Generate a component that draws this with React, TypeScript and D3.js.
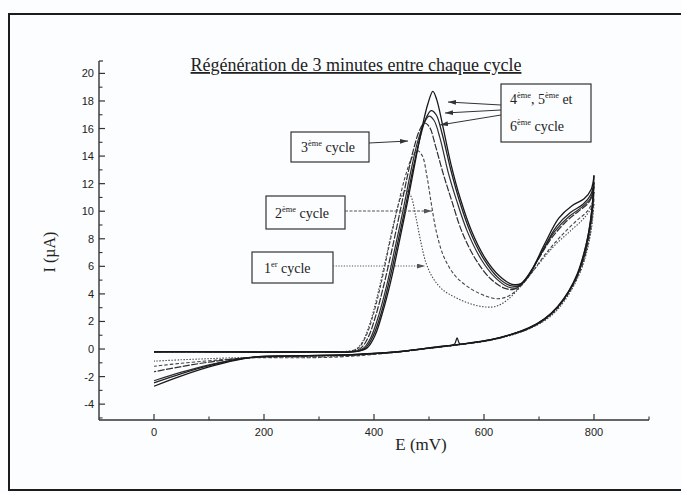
import React from "react";
import * as d3 from "d3";

// ---------- Data (E in mV, I in µA) ----------
const xTicksMajor = [0, 200, 400, 600, 800];
const xTicksMinor = [100, 300, 500, 700, 900];
const yTicksMajor = [-4, -2, 0, 2, 4, 6, 8, 10, 12, 14, 16, 18, 20];
const yTicksMinor = [-5, -3, -1, 1, 3, 5, 7, 9, 11, 13, 15, 17, 19];

const baseStart: [number, number][] = [[0, -0.2], [100, -0.2], [200, -0.22], [300, -0.2]];

const cycle1Forward: [number, number][] = [[350, -0.17], [368, 0.0], [380, 0.6], [392, 1.8], [405, 3.7], [420, 6.3], [435, 9.0], [448, 10.9], [458, 11.5], [467, 11.1], [476, 9.6], [485, 7.8], [495, 6.2], [508, 5.1], [525, 4.3], [550, 3.7], [578, 3.25], [603, 3.05], [622, 3.1], [642, 3.55], [668, 4.6], [698, 6.1], [728, 7.5], [758, 8.6], [782, 9.5], [800, 10.5]];
const cycle2Forward: [number, number][] = [[355, -0.17], [372, 0.1], [385, 0.9], [398, 2.4], [412, 4.6], [427, 7.4], [442, 10.1], [456, 12.4], [468, 13.8], [479, 14.4], [488, 14.0], [496, 12.6], [504, 10.6], [514, 8.4], [528, 6.6], [548, 5.3], [575, 4.4], [603, 3.85], [625, 3.65], [645, 3.85], [665, 4.5], [688, 5.6], [712, 6.9], [740, 8.2], [768, 9.3], [788, 10.0], [800, 10.9]];
const cycle3Forward: [number, number][] = [[360, -0.17], [377, 0.1], [390, 0.9], [403, 2.4], [417, 4.5], [432, 7.1], [447, 9.9], [461, 12.6], [472, 14.5], [483, 15.9], [492, 16.4], [501, 16.1], [512, 14.7], [526, 12.7], [541, 10.8], [560, 8.5], [585, 6.5], [612, 5.1], [638, 4.4], [655, 4.35], [673, 4.9], [697, 6.4], [722, 8.0], [748, 9.2], [772, 10.0], [790, 10.6], [800, 11.4]];
const cycle4Forward: [number, number][] = [[365, -0.17], [382, 0.1], [395, 0.9], [409, 2.5], [423, 4.6], [438, 7.3], [453, 10.1], [467, 12.9], [479, 15.0], [490, 16.3], [500, 16.9], [509, 16.6], [520, 15.3], [535, 12.8], [550, 10.8], [570, 8.5], [595, 6.5], [620, 5.2], [644, 4.5], [660, 4.45], [678, 5.1], [702, 6.8], [728, 8.5], [754, 9.6], [778, 10.3], [793, 10.9], [800, 11.8]];
const cycle5Forward: [number, number][] = [[368, -0.17], [385, 0.1], [399, 1.0], [413, 2.6], [427, 4.8], [442, 7.5], [457, 10.3], [471, 13.1], [483, 15.2], [494, 16.7], [504, 17.3], [513, 17.0], [524, 15.6], [539, 13.1], [555, 10.8], [575, 8.5], [600, 6.5], [625, 5.2], [648, 4.6], [664, 4.6], [682, 5.4], [706, 7.1], [732, 8.9], [757, 9.9], [780, 10.5], [794, 11.2], [800, 12.1]];
const cycle6Forward: [number, number][] = [[370, -0.17], [388, 0.1], [402, 1.0], [416, 2.7], [431, 5.0], [446, 7.8], [461, 10.7], [475, 13.6], [487, 16.0], [498, 17.8], [507, 18.7], [514, 18.1], [525, 16.2], [540, 13.4], [557, 10.9], [577, 8.6], [602, 6.6], [628, 5.3], [651, 4.7], [667, 4.75], [686, 5.7], [710, 7.6], [736, 9.5], [760, 10.4], [782, 10.9], [795, 11.6], [800, 12.6]];

const cycle1Reverse: [number, number][] = [[796, 8.9], [789, 7.4], [779, 6.0], [766, 4.8], [750, 3.7], [730, 2.7], [706, 1.95], [678, 1.4], [645, 0.95], [608, 0.6], [570, 0.38], [530, 0.18], [490, 0.0], [450, -0.18], [410, -0.32], [360, -0.47], [300, -0.58], [240, -0.6], [190, -0.6], [150, -0.63], [100, -0.7], [50, -0.78], [0, -0.88]];
const cycle2Reverse: [number, number][] = [[796, 9.2], [789, 7.6], [779, 6.1], [766, 4.9], [750, 3.8], [730, 2.8], [706, 2.0], [678, 1.42], [645, 0.98], [608, 0.62], [570, 0.4], [530, 0.2], [490, 0.0], [450, -0.2], [410, -0.36], [360, -0.52], [300, -0.62], [240, -0.63], [190, -0.63], [150, -0.7], [100, -0.85], [50, -1.03], [0, -1.25]];
const cycle3Reverse: [number, number][] = [[796, 9.6], [790, 8.0], [780, 6.4], [767, 5.1], [751, 3.95], [731, 2.9], [707, 2.05], [679, 1.45], [646, 1.0], [609, 0.63], [571, 0.4], [531, 0.2], [491, 0.02], [451, -0.18], [410, -0.32], [360, -0.44], [300, -0.5], [240, -0.54], [190, -0.58], [150, -0.7], [100, -0.95], [50, -1.27], [0, -1.65]];
const cycle4Reverse: [number, number][] = [[796, 9.9], [790, 8.2], [781, 6.6], [768, 5.2], [752, 4.0], [732, 2.95], [708, 2.1], [680, 1.48], [647, 1.02], [610, 0.65], [572, 0.42], [532, 0.22], [492, 0.03], [452, -0.17], [411, -0.3], [360, -0.42], [300, -0.48], [240, -0.52], [190, -0.57], [150, -0.74], [100, -1.15], [50, -1.68], [0, -2.3]];
const cycle5Reverse: [number, number][] = [[796, 10.1], [790, 8.4], [781, 6.8], [769, 5.3], [753, 4.1], [733, 3.0], [709, 2.15], [681, 1.5], [648, 1.04], [611, 0.66], [573, 0.43], [556, 0.38], [551, 0.8], [546, 0.34], [520, 0.2], [493, 0.04], [453, -0.16], [412, -0.3], [360, -0.41], [300, -0.47], [240, -0.51], [190, -0.56], [150, -0.76], [100, -1.2], [50, -1.78], [0, -2.45]];
const cycle6Reverse: [number, number][] = [[797, 10.4], [791, 8.6], [782, 7.0], [770, 5.5], [754, 4.2], [734, 3.1], [710, 2.2], [682, 1.55], [649, 1.06], [612, 0.68], [574, 0.44], [534, 0.24], [494, 0.05], [454, -0.15], [413, -0.29], [360, -0.4], [300, -0.46], [240, -0.5], [190, -0.55], [150, -0.8], [100, -1.3], [50, -1.95], [0, -2.7]];

const cycles = [
  { name: "1er cycle", fwd: cycle1Forward, rev: cycle1Reverse },
  { name: "2ème cycle", fwd: cycle2Forward, rev: cycle2Reverse },
  { name: "3ème cycle", fwd: cycle3Forward, rev: cycle3Reverse },
  { name: "4ème cycle", fwd: cycle4Forward, rev: cycle4Reverse },
  { name: "5ème cycle", fwd: cycle5Forward, rev: cycle5Reverse },
  { name: "6ème cycle", fwd: cycle6Forward, rev: cycle6Reverse },
];

const cycleStyles = [
  { stroke: "#444", width: 1.1, dash: "1.4,1.6" },
  { stroke: "#444", width: 1.1, dash: "3.5,2" },
  { stroke: "#2e2e2e", width: 1.2, dash: "7,1.5" },
  { stroke: "#2e2e2e", width: 1.2, dash: "none" },
  { stroke: "#222", width: 1.3, dash: "none" },
  { stroke: "#181818", width: 1.3, dash: "none" },
];

const W = 681;
const H = 493;
const serif = "'Liberation Serif', 'Times New Roman', serif";
const sans = "'Liberation Sans', Arial, sans-serif";

export default function App() {
  const x = d3.scaleLinear().domain([-100, 900]).range([99, 649]);
  const y = d3.scaleLinear().domain([-5.15, 20.9]).range([420, 61]);
  const line = d3
    .line<[number, number]>()
    .x((d) => x(d[0]))
    .y((d) => y(d[1]))
    .curve(d3.curveCatmullRom.alpha(0.5));

  const x0 = x(-100);
  const y0 = y(-5.15);

  const sup = (base: string, s: string, rest: string, size = 14) => (
    <>
      {base}
      <tspan fontSize={size * 0.6} dy={-size * 0.4}>{s}</tspan>
      <tspan dy={size * 0.4}>{rest}</tspan>
    </>
  );

  return (
    <svg
      width={W}
      height={H}
      style={{ position: "absolute", left: 0, top: 0, background: "#fcfdfe" }}
    >
      <defs>
        <marker id="ah" viewBox="0 0 10 6" refX="10" refY="3" markerWidth="8" markerHeight="5" orient="auto" markerUnits="userSpaceOnUse">
          <path d="M0,0 L10,3 L0,6 z" fill="#333" />
        </marker>
        <marker id="ahg" viewBox="0 0 10 6" refX="10" refY="3" markerWidth="8" markerHeight="5" orient="auto" markerUnits="userSpaceOnUse">
          <path d="M0,0 L10,3 L0,6 z" fill="#555" />
        </marker>
      </defs>
      <rect x={0} y={0} width={W} height={H} fill="#fcfdfe" />
      {/* outer frame */}
      <rect x={9} y={14} width={720} height={476} fill="none" stroke="#1c1c1c" strokeWidth={2} />

      {/* title */}
      <text x={356} y={71} textAnchor="middle" fontFamily={serif} fontSize={18} fill="#222" textDecoration="underline">
        Régénération de 3 minutes entre chaque cycle
      </text>

      {/* axes */}
      <line x1={x0} x2={x(900)} y1={y0} y2={y0} stroke="#333" strokeWidth={1.4} />
      <line x1={x0} x2={x0} y1={y0} y2={y(20.9)} stroke="#333" strokeWidth={1.4} />
      <line x1={x0} x2={x0 + 4} y1={y(20.9)} y2={y(20.9)} stroke="#333" strokeWidth={1.2} />
      {xTicksMajor.map((t) => (
        <g key={"xM" + t}>
          <line x1={x(t)} x2={x(t)} y1={y0} y2={y0 - 6} stroke="#333" strokeWidth={1.2} />
          <text x={x(t)} y={y0 + 16} textAnchor="middle" fontFamily={sans} fontSize={11} fill="#222">{t}</text>
        </g>
      ))}
      {xTicksMinor.map((t) => (
        <line key={"xm" + t} x1={x(t)} x2={x(t)} y1={y0} y2={y0 - 3.5} stroke="#333" strokeWidth={1.1} />
      ))}
      {yTicksMajor.map((t) => (
        <g key={"yM" + t}>
          <line x1={x0} x2={x0 + 6} y1={y(t)} y2={y(t)} stroke="#333" strokeWidth={1.2} />
          <text x={x0 - 5} y={y(t) + 4} textAnchor="end" fontFamily={sans} fontSize={11} fill="#222">{t}</text>
        </g>
      ))}
      {yTicksMinor.map((t) => (
        <line key={"ym" + t} x1={x0} x2={x0 + 3.5} y1={y(t)} y2={y(t)} stroke="#333" strokeWidth={1.1} />
      ))}

      {/* axis titles */}
      <text x={421} y={450} textAnchor="middle" fontFamily={serif} fontSize={17} fill="#222">E (mV)</text>
      <text transform={`translate(55,252) rotate(-90)`} textAnchor="middle" fontFamily={serif} fontSize={16} fill="#222">I (µA)</text>

      {/* curves */}
      {cycles.map((c, i) => {
        const st = cycleStyles[i];
        return (
          <g key={c.name}>
            <path d={line([...baseStart, ...c.fwd]) || ""} fill="none" stroke={st.stroke} strokeWidth={st.width} strokeDasharray={st.dash} />
            <path d={line([c.fwd[c.fwd.length - 1], ...c.rev]) || ""} fill="none" stroke={st.stroke} strokeWidth={st.width} strokeDasharray={st.dash} />
          </g>
        );
      })}

      {/* annotations */}
      <rect x={291} y={132} width={78} height={30} fill="#fcfdfe" stroke="#333" strokeWidth={1.2} />
      <text x={301} y={152} fontFamily={serif} fontSize={14} fill="#222">{sup("3", "ème", " cycle")}</text>
      <line x1={369} y1={143} x2={408} y2={141} stroke="#333" strokeWidth={1} markerEnd="url(#ah)" />

      <rect x={266} y={196} width={79} height={33} fill="#fcfdfe" stroke="#333" strokeWidth={1.2} />
      <text x={275} y={218} fontFamily={serif} fontSize={14} fill="#222">{sup("2", "ème", " cycle")}</text>
      <line x1={345} y1={211} x2={432} y2={211} stroke="#555" strokeWidth={1} strokeDasharray="3,1.5" markerEnd="url(#ahg)" />

      <rect x={252} y={252} width={81} height={31} fill="#fcfdfe" stroke="#333" strokeWidth={1.2} />
      <text x={264} y={273} fontFamily={serif} fontSize={14} fill="#222">{sup("1", "er", " cycle")}</text>
      <line x1={333} y1={266} x2={425} y2={266} stroke="#555" strokeWidth={1} strokeDasharray="1.2,1.5" markerEnd="url(#ahg)" />

      <rect x={501} y={84} width={90} height={58} fill="#fcfdfe" stroke="#333" strokeWidth={1.2} />
      <text x={510} y={104} fontFamily={serif} fontSize={14} fill="#222">
        4<tspan fontSize={8.4} dy={-5.6}>ème</tspan><tspan dy={5.6}>, 5</tspan><tspan fontSize={8.4} dy={-5.6}>ème</tspan><tspan dy={5.6}> et</tspan>
      </text>
      <text x={510} y={131} fontFamily={serif} fontSize={14} fill="#222">{sup("6", "ème", " cycle")}</text>
      <line x1={501} y1={105} x2={448} y2={102} stroke="#333" strokeWidth={1} markerEnd="url(#ah)" />
      <line x1={501} y1={110} x2={445} y2={113} stroke="#333" strokeWidth={1} markerEnd="url(#ah)" />
      <line x1={501} y1={115} x2={440} y2={125} stroke="#333" strokeWidth={1} markerEnd="url(#ah)" />
    </svg>
  );
}
